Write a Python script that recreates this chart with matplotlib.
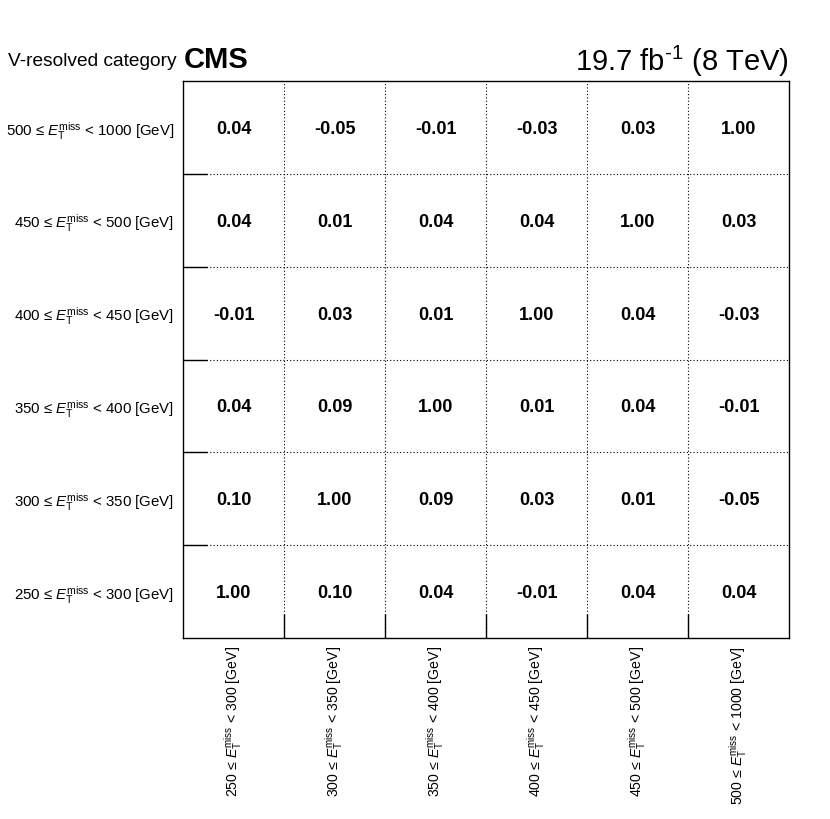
import matplotlib
matplotlib.use("Agg")
import matplotlib.pyplot as plt
import numpy as np

plt.rcParams['font.family'] = ['Liberation Sans', 'DejaVu Sans']
plt.rcParams['mathtext.fontset'] = 'custom'
plt.rcParams['mathtext.rm'] = 'Liberation Sans'
plt.rcParams['mathtext.it'] = 'Liberation Sans:italic'
plt.rcParams['mathtext.bf'] = 'Liberation Sans:bold'

bins = ["250 \u2264 $E_{\\mathrm{T}}^{\\mathrm{miss}}$ < 300 [GeV]",
        "300 \u2264 $E_{\\mathrm{T}}^{\\mathrm{miss}}$ < 350 [GeV]",
        "350 \u2264 $E_{\\mathrm{T}}^{\\mathrm{miss}}$ < 400 [GeV]",
        "400 \u2264 $E_{\\mathrm{T}}^{\\mathrm{miss}}$ < 450 [GeV]",
        "450 \u2264 $E_{\\mathrm{T}}^{\\mathrm{miss}}$ < 500 [GeV]",
        "500 \u2264 $E_{\\mathrm{T}}^{\\mathrm{miss}}$ < 1000 [GeV]"]

# rows: y bins from bottom (250-300) to top (500-1000); columns: x bins
row_250_300 = [1.00, 0.10, 0.04, -0.01, 0.04, 0.04]
row_300_350 = [0.10, 1.00, 0.09, 0.03, 0.01, -0.05]
row_350_400 = [0.04, 0.09, 1.00, 0.01, 0.04, -0.01]
row_400_450 = [-0.01, 0.03, 0.01, 1.00, 0.04, -0.03]
row_450_500 = [0.04, 0.01, 0.04, 0.04, 1.00, 0.03]
row_500_1000 = [0.04, -0.05, -0.01, -0.03, 0.03, 1.00]
corr = np.array([row_250_300, row_300_350, row_350_400,
                 row_400_450, row_450_500, row_500_1000])

fig = plt.figure(figsize=(8.3, 8.19), dpi=100)
W, H = 830, 819
ax = fig.add_axes([183 / W, 1 - 638 / H, (789 - 183) / W, (638 - 81) / H])
n = len(bins)
ax.set_xlim(0, n)
ax.set_ylim(0, n)

for j in range(n):
    for i in range(n):
        ax.text(i + 0.5, j + 0.5, f"{corr[j, i]:.2f}", ha='center', va='center_baseline',
                fontsize=13, fontweight='bold')

for k in range(1, n):
    ax.axvline(k, color='black', linestyle=(0, (1, 2)), linewidth=0.8)
    ax.axhline(k, color='black', linestyle=(0, (1, 2)), linewidth=0.8)

ax.set_xticks(np.arange(n) + 0.5)
ax.set_yticks(np.arange(n) + 0.5)
ax.set_xticklabels(bins, rotation=90, fontsize=10.2)
ax.set_yticklabels(bins, fontsize=10.8)
ax.tick_params(axis='x', which='major', length=0, pad=6)
ax.tick_params(axis='y', which='major', length=0, pad=6.5)
ax.set_xticks(np.arange(1, n), minor=True)
ax.set_yticks(np.arange(1, n), minor=True)
ax.tick_params(axis='both', which='minor', direction='in', length=17, width=1.0)
ax.tick_params(top=False, right=False, which='both')
for s in ax.spines.values():
    s.set_linewidth(1.0)

fig.text(8 / W, 1 - 61 / H, "V-resolved category", fontsize=13.8, ha='left', va='center')
fig.text(184 / W, 1 - 60 / H, "CMS", fontsize=21, fontweight='bold', ha='left', va='center')
fig.text(789 / W, 1 - 61 / H, "19.7 fb$^{\\text{-1}}$ (8 TeV)", fontsize=21, ha='right', va='center')

fig.savefig("out.png", dpi=100)
